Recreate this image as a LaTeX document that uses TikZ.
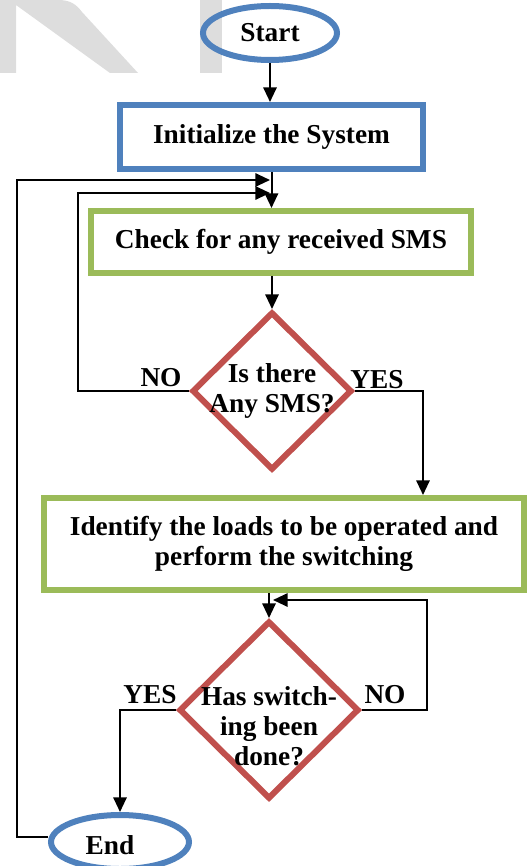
\documentclass[tikz,border=0pt]{standalone}
\usepackage{fontspec}
\setmainfont{Liberation Serif}
\usetikzlibrary{arrows.meta,positioning,calc,shapes.geometric}
\definecolor{boxblue}{HTML}{4F81BD}
\definecolor{boxgreen}{HTML}{9BBB59}
\definecolor{boxred}{HTML}{C0504D}
\definecolor{wmark}{HTML}{DDDDDD}
\tikzstyle{txt}=[font=\fontsize{20.5}{22.5}\selectfont\bfseries, align=center, inner sep=0pt]
\tikzstyle{term}=[txt, draw=boxblue, line width=4.5pt, ellipse, minimum height=40.5pt]
\tikzstyle{proc}=[txt, draw, line width=4.5pt, rectangle]
\tikzstyle{decis}=[draw=boxred, line width=4.5pt, diamond, inner sep=0pt]
\tikzstyle{conn}=[line width=1.5pt, -{Triangle[length=11pt,width=10pt]}]

\begin{document}
\begin{tikzpicture}[x=0.75pt, y=-0.75pt]
	\useasboundingbox (0,0) rectangle (530,866);
	\fill[wmark] (0,0) -- (58,0) .. controls (70,0) and (76,4) .. (82,12) -- (138,73) -- (110,73) -- (16,5) -- (16,73) -- (0,73) -- cycle;
	\fill[wmark] (200,0) rectangle (222,73);

	\node[term, minimum width=100.5pt] (start) at (270,33) {Start};
	\node[proc, draw=boxblue, minimum width=227pt, minimum height=48pt] (init) at (271.5,137) {Initialize the System};
	\node[proc, draw=boxgreen, minimum width=285pt, minimum height=46.5pt] (check) at (281,242) {Check for any received SMS};
	\node[decis, minimum width=120pt, minimum height=118.5pt] (sms) at (272,391) {};
	\node[txt] (smst) at (sms) {Is there\\Any SMS?};
	\node[proc, draw=boxgreen, minimum width=360pt, minimum height=69pt] (load) at (284,544) {Identify the loads to be operated and\\perform the switching};
	\node[decis, minimum width=135pt, minimum height=133.5pt] (done) at (269,710) {};
	\node[txt] (donet) at ($(done)+(0,16)$) {Has switch-\\ing been\\done?};
	\node[term, minimum width=103.5pt] (end) at (120,842) {};
	\node[txt] (endt) at ($(end)+(-10,3)$) {End};

	\node[txt] (no1) at ($(sms.west)+(-28,-13)$) {NO};
	\node[txt] (yes1) at ($(sms.east)+(22,-11)$) {YES};
	\node[txt] (yes2) at ($(done.west)+(-26,-15)$) {YES};
	\node[txt] (no2) at ($(done.east)+(23,-15)$) {NO};

	\coordinate (back1) at (270,180);
	\coordinate (back2) at (270,193);
	\coordinate (back3) at (273,600);
	\coordinate (c1) at (17,180);
	\coordinate (c2) at (78,193);
	\coordinate (c3) at (423,0);
	\coordinate (c4) at (427,600);

	\draw[conn] (start) -- (start |- init.north);
	\draw[conn] (init.south) -- (init.south |- check.north);
	\draw[conn] (check.south -| sms.north) -- (sms.north);
	\draw[conn] (sms.east) -| (c3 |- load.north);
	\draw[conn] (load.south -| done.north) -- (done.north);
	\draw[conn] (done.west) -| (end.north);
	\draw[conn] (sms.west) -| (c2) -- (back2);
	\draw[conn] (done.east) -| (c4) -- (back3);
	\draw[conn] ($(end.west)+(0,-5)$) -| (c1) -- (back1);
\end{tikzpicture}
\end{document}
